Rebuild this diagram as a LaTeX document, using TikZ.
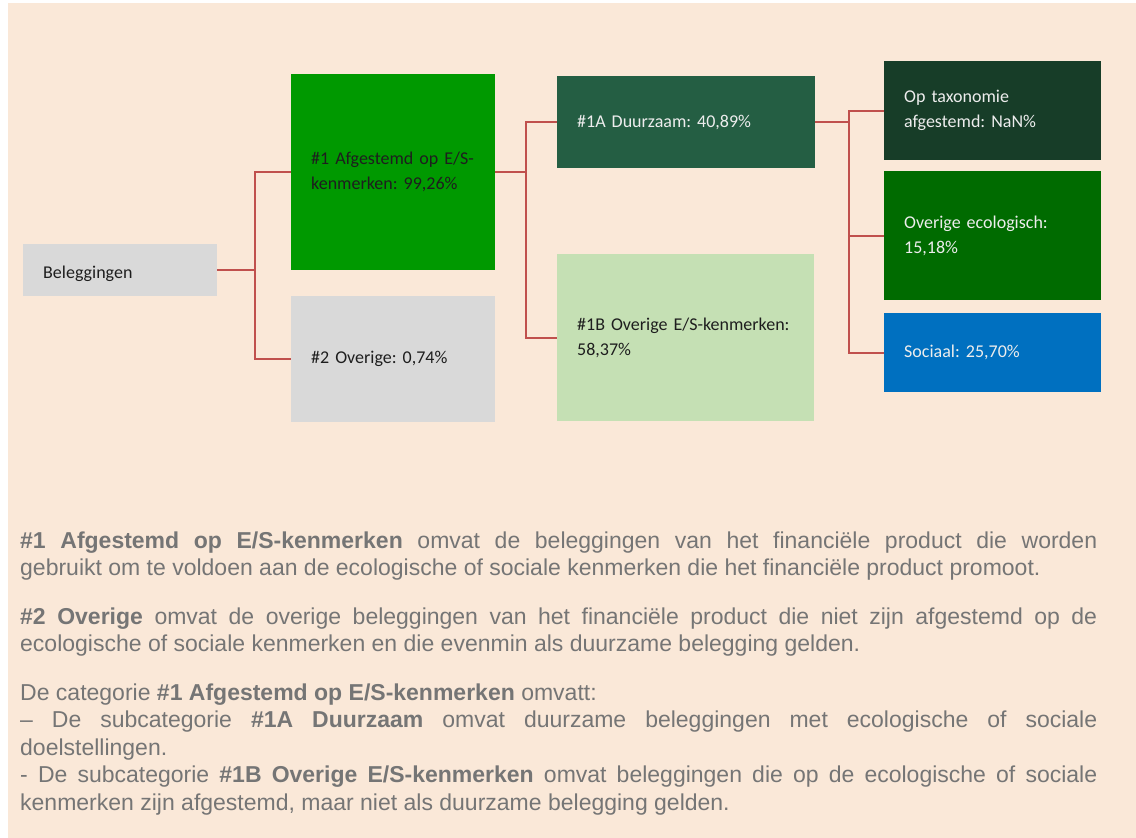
\documentclass[tikz,border=0pt]{standalone}
\usepackage{fontspec}
\newfontfamily\boxf{Carlito}
\newfontfamily\arialf{Liberation Sans}
\definecolor{peach}{HTML}{FAE8D8}
\definecolor{lgrey}{HTML}{D9D9D9}
\definecolor{gA}{HTML}{009900}
\definecolor{gB}{HTML}{245E43}
\definecolor{gC}{HTML}{C5E0B4}
\definecolor{gD}{HTML}{173D28}
\definecolor{gE}{HTML}{006B00}
\definecolor{bS}{HTML}{0070C0}
\definecolor{conn}{HTML}{C0504D}
\definecolor{txtgrey}{HTML}{757575}
\definecolor{darktxt}{HTML}{1E1E1E}
\definecolor{lighttxt}{HTML}{EDEDED}
\tikzset{
  boxnode/.style={rectangle, anchor=north west, inner xsep=20pt, inner ysep=0pt,
    align=left, font=\boxf\fontsize{18}{25}\selectfont\frenchspacing},
  linkline/.style={draw=conn, line width=2pt},
}
\begin{document}
\begin{tikzpicture}[x=1pt,y=-1pt]
\useasboundingbox (0,0) rectangle (1136,838);
\fill[white] (0,0) rectangle (1136,838);
\fill[peach] (8,3) rectangle (1136,838);

\node[boxnode, fill=lgrey, text=darktxt, text width=154pt, minimum height=52pt] (bel) at (23,244) {\rule{0pt}{19pt}Beleggingen};
\node[boxnode, fill=gA, text=darktxt, text width=164pt, minimum height=196pt] (n1) at (291,74) {\#1 Afgestemd op E/S-\\kenmerken: 99,26\%};
\node[boxnode, fill=lgrey, text=darktxt, text width=164pt, minimum height=126pt] (n2) at (291,296) {\#2 Overige: 0,74\%};
\node[boxnode, fill=gB, text=lighttxt, text width=218pt, minimum height=92pt] (n1a) at (557,76) {\#1A Duurzaam: 40,89\%};
\node[boxnode, fill=gC, text=darktxt, text width=217pt, minimum height=167pt] (n1b) at (557,254) {\#1B Overige E/S-kenmerken:\\58,37\%};
\node[boxnode, fill=gD, text=lighttxt, text width=177pt, minimum height=99pt] (tax) at (884,61) {Op taxonomie\\afgestemd: NaN\%};
\node[boxnode, fill=gE, text=lighttxt, text width=177pt, minimum height=129pt] (eco) at (884,171) {Overige ecologisch:\\15,18\%};
\node[boxnode, fill=bS, text=lighttxt, text width=177pt, minimum height=79pt] (soc) at (884,313) {Sociaal: 25,70\%};

\draw[linkline] (bel.east) -- ++(37.5,0) coordinate (j1);
\draw[linkline] (j1) |- (n1.west);
\draw[linkline] (j1) |- (n2.west);
\draw[linkline] (n1.east) -- ++(31,0) coordinate (j2);
\draw[linkline] (j2) |- (n1a.west);
\draw[linkline] (j2) |- (n1b.west);
\draw[linkline] (n1a.east) -- ++(34,0) coordinate (j3);
\draw[linkline] (j3) |- (tax.west);
\draw[linkline] (j3) |- (eco.west);
\draw[linkline] (j3) |- (soc.west);

\node[anchor=north west, inner sep=0pt, text width=1077pt, text=txtgrey, align=justify,
  font=\arialf\fontsize{23}{27.5}\selectfont] (expl) at (20,528.7) {%
\parindent=0pt \parskip=21pt \hyphenpenalty=10000 \exhyphenpenalty=10000 \rightskip=0pt plus 0pt \parfillskip=0pt plus 1fil \emergencystretch=20pt
\strut\textbf{\#1 Afgestemd op E/S-kenmerken} omvat de beleggingen van het financiële product die worden\linebreak gebruikt om te voldoen aan de ecologische of sociale kenmerken die het financiële product promoot.\par
\textbf{\#2 Overige} omvat de overige beleggingen van het financiële product die niet zijn afgestemd op de\linebreak ecologische of sociale kenmerken en die evenmin als duurzame belegging gelden.\par
De categorie \textbf{\#1 Afgestemd op E/S-kenmerken} omvatt:\newline
– De subcategorie \textbf{\#1A Duurzaam} omvat duurzame beleggingen met ecologische of sociale\linebreak doelstellingen.\newline
- De subcategorie \textbf{\#1B Overige E/S-kenmerken} omvat beleggingen die op de ecologische of sociale\linebreak kenmerken zijn afgestemd, maar niet als duurzame belegging gelden.\par};
\end{tikzpicture}
\end{document}
